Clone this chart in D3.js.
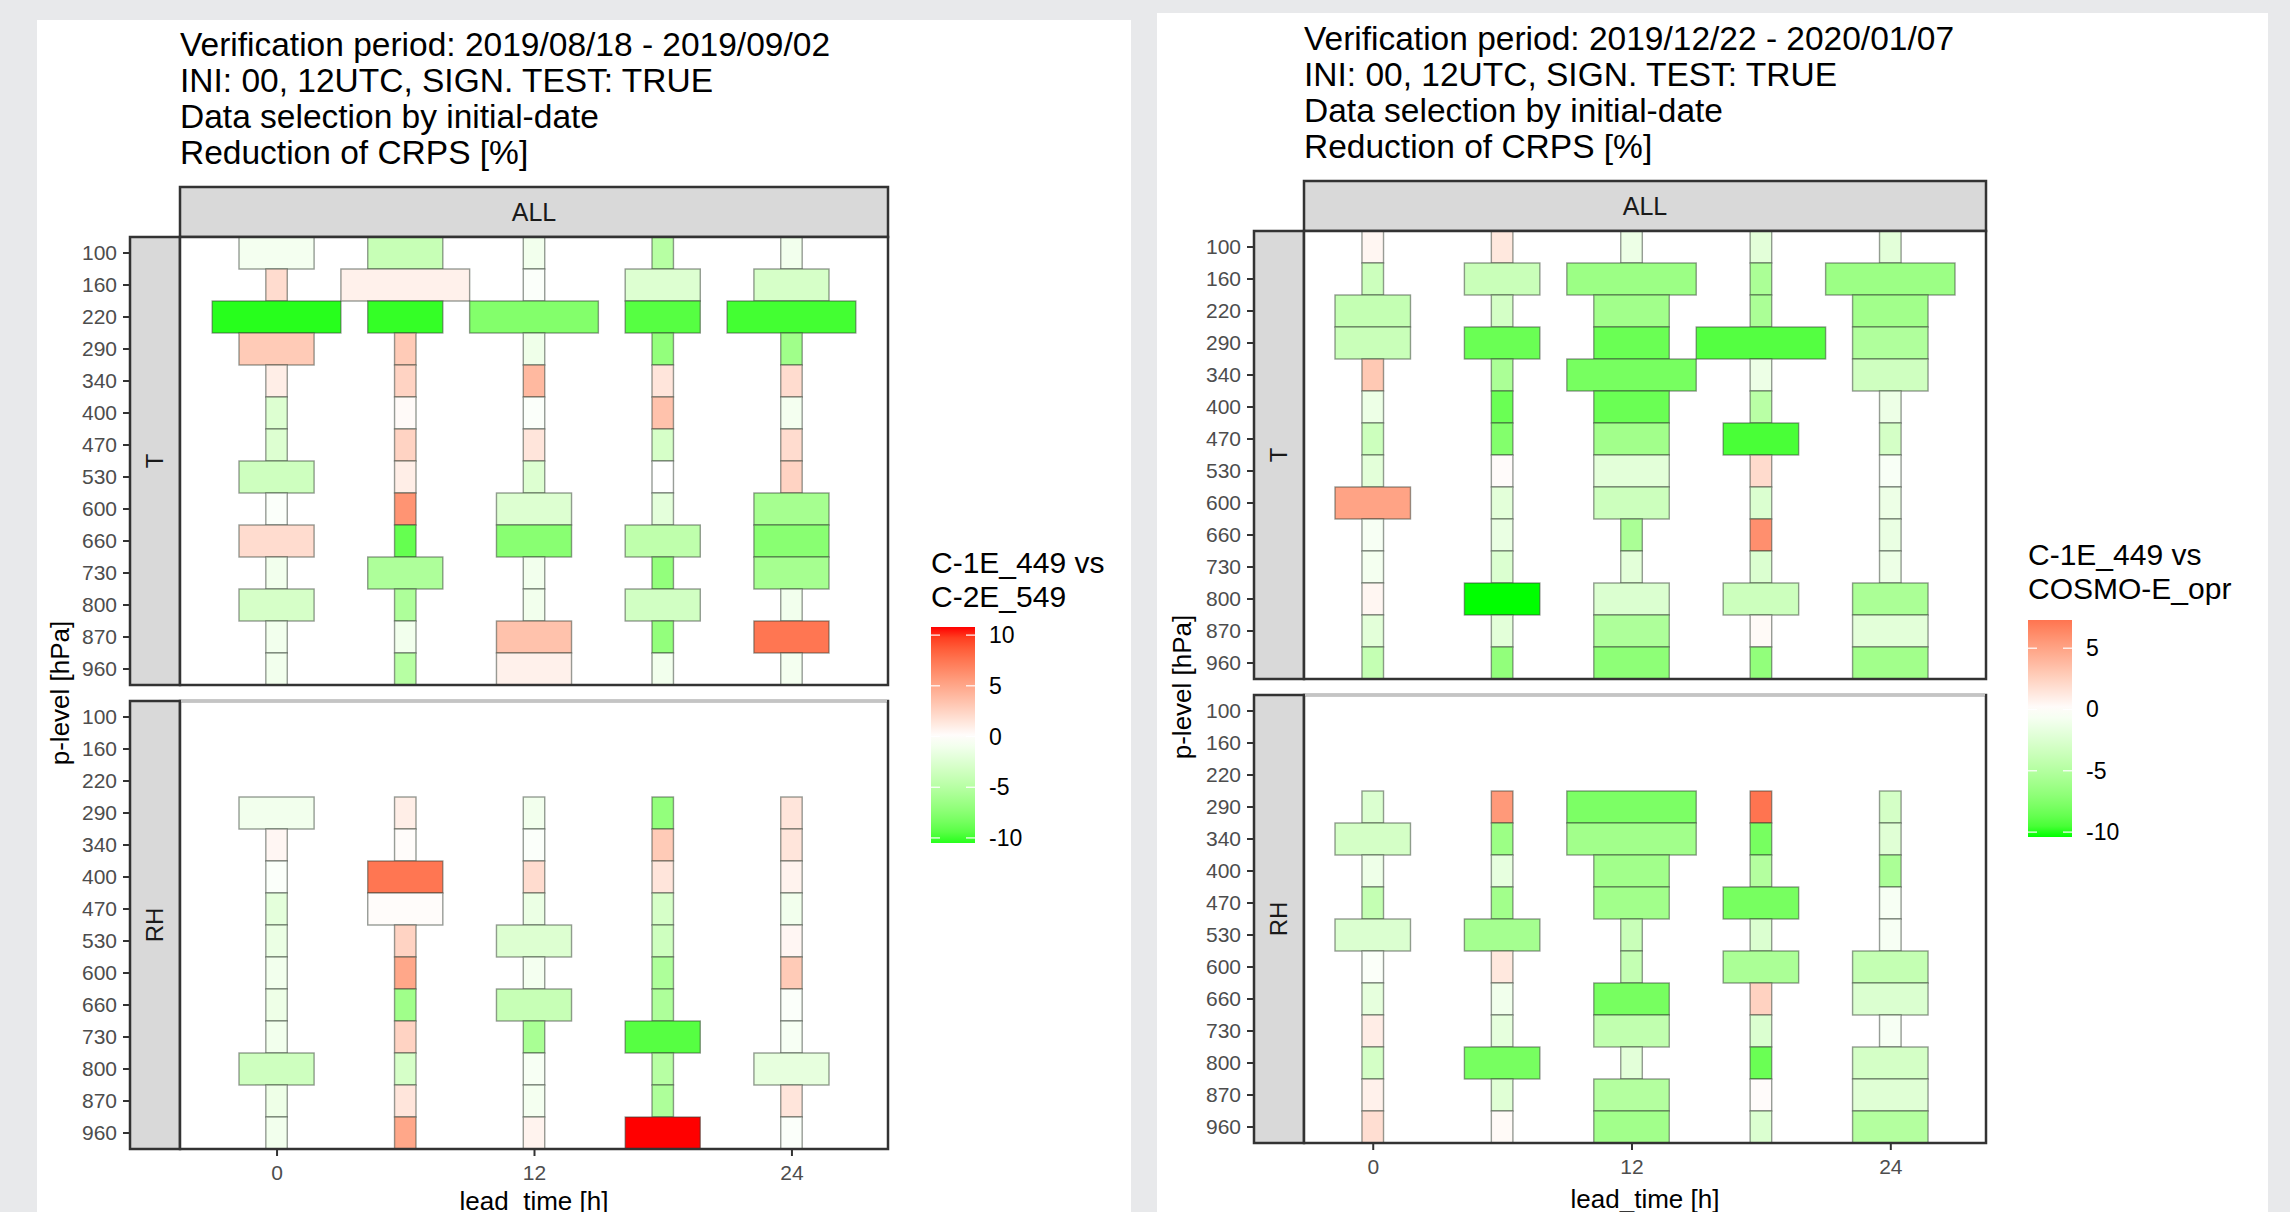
<!DOCTYPE html>
<html>
<head>
<meta charset="utf-8">
<script src="https://cdn.jsdelivr.net/npm/d3@7/dist/d3.min.js"></script>
<style>
  body { margin: 0; background: #e8e9eb; }
  svg { display: block; font-family: "Liberation Sans", Arial, Helvetica, sans-serif; }
</style>
</head>
<body>
<svg id="chart" width="2290" height="1212"></svg>
<script>
// categories
var levels = [100, 160, 220, 290, 340, 400, 470, 530, 600, 660, 730, 800, 870, 960];
var leads = [0, 6, 12, 18, 24];
var xTickValues = [0, 12, 24];
var facets = ["T", "RH"];
var n = null;

// ---- left chart: C-1E_449 vs C-2E_549 ----
var leftTitle = ["Verification period: 2019/08/18 - 2019/09/02", "INI: 00, 12UTC, SIGN. TEST: TRUE",
                 "Data selection by initial-date", "Reduction of CRPS [%]"];
var leftLegendTitle = ["C-1E_449 vs", "C-2E_549"];
var leftBreaks = [10, 5, 0, -5, -10];
// one row per lead time (0,6,12,18,24), one entry per p-level
var leftT = [
  [-0.8, 2, -10.5, 3, 1, -2.5, -2.5, -3.5, -0.3, 2, -1, -3, -1, -1],
  [-4, 0.8, -10.3, 3, 2.5, 0.3, 2.5, 1, 6, -9, -5.5, -5.5, -1, -5],
  [-1, -0.3, -7.8, -1.2, 4, -0.3, 1.5, -2.5, -2.5, -7.5, -1, -1, 3.5, 0.8],
  [-5, -2.5, -9.5, -7, 1.5, 3.5, -3, 0, -2, -4.5, -7, -3.3, -7, -1],
  [-1, -3, -10, -6.3, 2, -0.8, 2, 2.5, -6, -7.5, -6, -1, 7.5, -0.8]
];
// significance class: 0 not, 1 significant, 2 highly significant
var leftTSig = [
  [1, 0, 2, 1, 0, 0, 0, 1, 0, 1, 0, 1, 0, 0],
  [1, 2, 1, 0, 0, 0, 0, 0, 0, 0, 1, 0, 0, 0],
  [0, 0, 2, 0, 0, 0, 0, 0, 1, 1, 0, 0, 1, 1],
  [0, 1, 1, 0, 0, 0, 0, 0, 0, 1, 0, 1, 0, 0],
  [0, 1, 2, 0, 0, 0, 0, 0, 1, 1, 1, 0, 1, 0]
];
var leftRH = [
  [n, n, n, -1, 0.5, -0.3, -2, -1.5, -1, -1.3, -1, -3.5, -1.3, -1],
  [n, n, n, 1, 0.2, 7.5, 0.2, 2.5, 5, -6.3, 2.5, -3, 1.5, 5],
  [n, n, n, -1, -0.3, 2, -1.5, -2.5, -0.8, -4, -5.8, -0.6, -0.8, 0.7],
  [n, n, n, -7, 3, 1.5, -3, -3.5, -5.5, -5.5, -9.5, -5, -5.5, 10.8],
  [n, n, n, 1.5, 1.5, 0.7, -1, 0.5, 3, -0.3, -0.6, -1.8, 1.5, -0.3]
];
var leftRHSig = [
  [n, n, n, 1, 0, 0, 0, 0, 0, 0, 0, 1, 0, 0],
  [n, n, n, 0, 0, 1, 1, 0, 0, 0, 0, 0, 0, 0],
  [n, n, n, 0, 0, 0, 0, 1, 0, 1, 0, 0, 0, 0],
  [n, n, n, 0, 0, 0, 0, 0, 0, 0, 1, 0, 0, 1],
  [n, n, n, 0, 0, 0, 0, 0, 0, 0, 0, 1, 0, 0]
];

// ---- right chart: C-1E_449 vs COSMO-E_opr ----
var rightTitle = ["Verification period: 2019/12/22 - 2020/01/07", "INI: 00, 12UTC, SIGN. TEST: TRUE",
                  "Data selection by initial-date", "Reduction of CRPS [%]"];
var rightLegendTitle = ["C-1E_449 vs", "COSMO-E_opr"];
var rightBreaks = [5, 0, -5, -10];
var rightT = [
  [0.5, -3.5, -4, -3.7, 3, -1.3, -3.5, -2, 5, -0.6, -0.8, 0.5, -2, -4],
  [1.3, -3.7, -3, -8.5, -5.5, -8.5, -7.5, 0.2, -2, -1.5, -2.5, -10.4, -2, -6.8],
  [-1.3, -6.3, -6, -8.5, -8, -8.5, -6, -2, -3.5, -5.5, -2, -2.5, -5.3, -7],
  [-2, -5.5, -5.5, -9.2, -1.3, -4.7, -9.5, 2, -2.5, 6, -2.5, -3.5, 0.3, -6.8],
  [-2, -6.3, -6, -5.2, -3.3, -1.3, -3, -0.5, -1.3, -1.5, -1.3, -5.5, -2, -6]
];
var rightTSig = [
  [0, 0, 1, 1, 0, 0, 0, 0, 1, 0, 0, 0, 0, 0],
  [0, 1, 0, 1, 0, 0, 0, 0, 0, 0, 0, 1, 0, 0],
  [0, 2, 1, 1, 2, 1, 1, 1, 1, 0, 0, 1, 1, 1],
  [0, 0, 0, 2, 0, 0, 1, 0, 0, 0, 0, 1, 0, 0],
  [0, 2, 1, 1, 1, 0, 0, 0, 0, 0, 0, 1, 1, 1]
];
var rightRH = [
  [n, n, n, -2.5, -3, -1.2, -4, -2.5, -0.3, -1.8, 1, -3, 0.8, 1.8],
  [n, n, n, 5.5, -6.3, -1.7, -6, -5.8, 1.3, -1, -1.8, -8, -2.2, 0.3],
  [n, n, n, -7.8, -6, -6, -6, -3.7, -4, -8, -4.2, -2, -5, -6],
  [n, n, n, 7.3, -8, -5, -8, -2.5, -5.5, 2.5, -2.5, -8.5, 0.2, -2.5],
  [n, n, n, -3, -2.2, -5.5, -0.6, -0.6, -4, -2.5, -0.6, -3, -2.2, -5]
];
var rightRHSig = [
  [n, n, n, 0, 1, 0, 0, 1, 0, 0, 0, 0, 0, 0],
  [n, n, n, 0, 0, 0, 0, 1, 0, 0, 0, 1, 0, 0],
  [n, n, n, 2, 2, 1, 1, 0, 0, 1, 1, 0, 1, 1],
  [n, n, n, 0, 0, 0, 1, 0, 1, 0, 0, 0, 0, 0],
  [n, n, n, 0, 0, 0, 0, 0, 1, 1, 0, 1, 1, 1]
];

// box width in hours for each significance class
var boxWidth = d3.scaleOrdinal().domain([0, 1, 2]).range([1, 3.5, 6]);

function makeRows(vals, sig, facet) {
  var rows = [];
  vals.forEach(function(row, i) {
    row.forEach(function(v, j) {
      if (v === null) return;
      rows.push({ facet: facet, lead: leads[i], level: levels[j], value: v, sig: sig[i][j] });
    });
  });
  return rows;
}

var svg = d3.select("#chart");

function drawPlot(cfg) {
  var data = makeRows(cfg.T, cfg.TSig, "T").concat(makeRows(cfg.RH, cfg.RHSig, "RH"));
  var g = svg.append("g");

  // card
  g.append("rect")
    .attr("x", cfg.card[0]).attr("y", cfg.card[1])
    .attr("width", cfg.card[2] - cfg.card[0]).attr("height", 1212 - cfg.card[1])
    .attr("fill", "#ffffff");

  // title
  g.selectAll(".title").data(cfg.title).enter().append("text")
    .attr("x", cfg.px0)
    .attr("y", function(d, i) { return cfg.titleY + i * 36; })
    .attr("font-size", 33.5)
    .attr("fill", "#000")
    .text(function(d) { return d; });

  // scales
  var lo = d3.min(data, function(d) { return d.lead - boxWidth(d.sig) / 2; });
  var hi = d3.max(data, function(d) { return d.lead + boxWidth(d.sig) / 2; });
  var pad = (hi - lo) * 0.05;
  var x = d3.scaleLinear().domain([lo - pad, hi + pad]).range([cfg.px0, cfg.px1]);

  var vmin = d3.min(data, function(d) { return d.value; });
  var vmax = d3.max(data, function(d) { return d.value; });
  var M = Math.max(Math.abs(vmin), Math.abs(vmax));
  var color = d3.scaleDiverging()
    .domain([-M, 0, M])
    .interpolator(function(t) {
      return t < 0.5 ? d3.interpolateLab("#00ff00", "#ffffff")(t * 2)
                     : d3.interpolateLab("#ffffff", "#ff0000")(t * 2 - 1);
    });

  var panelH = 448, gap = 16, stripW = 50;
  var stripTop = cfg.stripTop;
  var panelTop0 = stripTop + 50;

  // ALL strip
  g.append("rect")
    .attr("x", cfg.px0).attr("y", stripTop)
    .attr("width", cfg.px1 - cfg.px0).attr("height", 50)
    .attr("fill", "#d9d9d9").attr("stroke", "#333").attr("stroke-width", 2.5);
  g.append("text")
    .attr("x", (cfg.px0 + cfg.px1) / 2).attr("y", stripTop + 34)
    .attr("text-anchor", "middle").attr("font-size", 25).attr("fill", "#1a1a1a")
    .text("ALL");

  facets.forEach(function(f, fi) {
    var top = panelTop0 + fi * (panelH + gap);
    var y = d3.scaleBand().domain(levels).range([top, top + panelH]).padding(0);

    // strip on the left
    g.append("rect")
      .attr("x", cfg.px0 - stripW).attr("y", top)
      .attr("width", stripW).attr("height", panelH)
      .attr("fill", "#d9d9d9").attr("stroke", "#333").attr("stroke-width", 2.5);
    g.append("text")
      .attr("transform", "translate(" + (cfg.px0 - stripW / 2 + 8) + "," + (top + panelH / 2) + ") rotate(-90)")
      .attr("text-anchor", "middle").attr("font-size", 24).attr("fill", "#1a1a1a")
      .text(f);

    g.append("rect")
      .attr("x", cfg.px0).attr("y", top)
      .attr("width", cfg.px1 - cfg.px0).attr("height", panelH)
      .attr("fill", "#ffffff");

    // tiles
    g.selectAll(".tile" + f)
      .data(data.filter(function(d) { return d.facet === f; }))
      .enter()
      .append("rect")
        .attr("x", function(d) { return x(d.lead - boxWidth(d.sig) / 2); })
        .attr("y", function(d) { return y(d.level); })
        .attr("width", function(d) { return x(d.lead + boxWidth(d.sig) / 2) - x(d.lead - boxWidth(d.sig) / 2); })
        .attr("height", y.bandwidth())
        .attr("fill", function(d) { return color(d.value); })
        .attr("stroke", "rgba(50,60,50,0.5)")
        .attr("stroke-width", 1.4);

    // panel border
    g.append("rect")
      .attr("x", cfg.px0).attr("y", top)
      .attr("width", cfg.px1 - cfg.px0).attr("height", panelH)
      .attr("fill", "none").attr("stroke", "#333").attr("stroke-width", 2.5);
    if (fi === 1) {
      g.append("line")
        .attr("x1", cfg.px0 + 1).attr("x2", cfg.px1 - 1)
        .attr("y1", top).attr("y2", top)
        .attr("stroke", "#c4c4c4").attr("stroke-width", 2.5);
    }

    // y axis
    var ya = g.append("g")
      .attr("transform", "translate(" + (cfg.px0 - stripW) + ",0)")
      .call(d3.axisLeft(y).tickSize(7).tickPadding(6));
    ya.select(".domain").remove();
    ya.selectAll("line").attr("stroke", "#333").attr("stroke-width", 2);
    ya.selectAll("text").attr("font-size", 21).attr("fill", "#4d4d4d")
      .attr("font-family", "'Liberation Sans', Arial, sans-serif");

    if (fi === 1) {
      var xa = g.append("g")
        .attr("transform", "translate(0," + (top + panelH) + ")")
        .call(d3.axisBottom(x).tickValues(xTickValues).tickSize(7).tickPadding(9));
      xa.select(".domain").remove();
      xa.selectAll("line").attr("stroke", "#333").attr("stroke-width", 2);
      xa.selectAll("text").attr("font-size", 21).attr("fill", "#4d4d4d")
        .attr("font-family", "'Liberation Sans', Arial, sans-serif");
    }
  });

  // axis titles
  g.append("text")
    .attr("x", (cfg.px0 + cfg.px1) / 2).attr("y", cfg.xTitleY)
    .attr("text-anchor", "middle").attr("font-size", 26).attr("fill", "#000")
    .text("lead_time [h]");
  g.append("text")
    .attr("transform", "translate(" + cfg.yTitleX + "," + (panelTop0 + panelH + gap / 2) + ") rotate(-90)")
    .attr("text-anchor", "middle").attr("font-size", 26).attr("fill", "#000")
    .text("p-level [hPa]");

  // legend
  g.selectAll(".ltitle").data(cfg.legendTitle).enter().append("text")
    .attr("x", cfg.lx).attr("y", function(d, i) { return cfg.legendY + i * 34; })
    .attr("font-size", 30).attr("fill", "#000")
    .text(function(d) { return d; });

  var barW = 44;
  var ly = d3.scaleLinear().domain([vmin, vmax]).range([cfg.barY1, cfg.barY0]);
  var grad = svg.append("defs").append("linearGradient")
    .attr("id", cfg.id).attr("x1", 0).attr("y1", 1).attr("x2", 0).attr("y2", 0);
  d3.range(0, 1.0001, 0.05).forEach(function(t) {
    grad.append("stop").attr("offset", t).attr("stop-color", color(vmin + t * (vmax - vmin)));
  });
  g.append("rect")
    .attr("x", cfg.lx).attr("y", cfg.barY0)
    .attr("width", barW).attr("height", cfg.barY1 - cfg.barY0)
    .attr("fill", "url(#" + cfg.id + ")");
  cfg.breaks.forEach(function(b) {
    [[cfg.lx, cfg.lx + 9], [cfg.lx + barW - 9, cfg.lx + barW]].forEach(function(s) {
      g.append("line")
        .attr("x1", s[0]).attr("x2", s[1]).attr("y1", ly(b)).attr("y2", ly(b))
        .attr("stroke", "#ffffff").attr("stroke-width", 1.2);
    });
    g.append("text")
      .attr("x", cfg.lx + barW + 14).attr("y", ly(b) + 8)
      .attr("font-size", 23).attr("fill", "#000")
      .text(b);
  });
}

drawPlot({
  id: "gradLeft", card: [37, 20, 1131], title: leftTitle, titleY: 56,
  px0: 180, px1: 888, stripTop: 187, xTitleY: 1210, yTitleX: 69,
  legendTitle: leftLegendTitle, lx: 931, legendY: 573, barY0: 627, barY1: 843, breaks: leftBreaks,
  T: leftT, TSig: leftTSig, RH: leftRH, RHSig: leftRHSig
});
drawPlot({
  id: "gradRight", card: [1157, 13, 2268], title: rightTitle, titleY: 50,
  px0: 1304, px1: 1986, stripTop: 181, xTitleY: 1208, yTitleX: 1191,
  legendTitle: rightLegendTitle, lx: 2028, legendY: 565, barY0: 620, barY1: 837, breaks: rightBreaks,
  T: rightT, TSig: rightTSig, RH: rightRH, RHSig: rightRHSig
});
</script>
</body>
</html>
